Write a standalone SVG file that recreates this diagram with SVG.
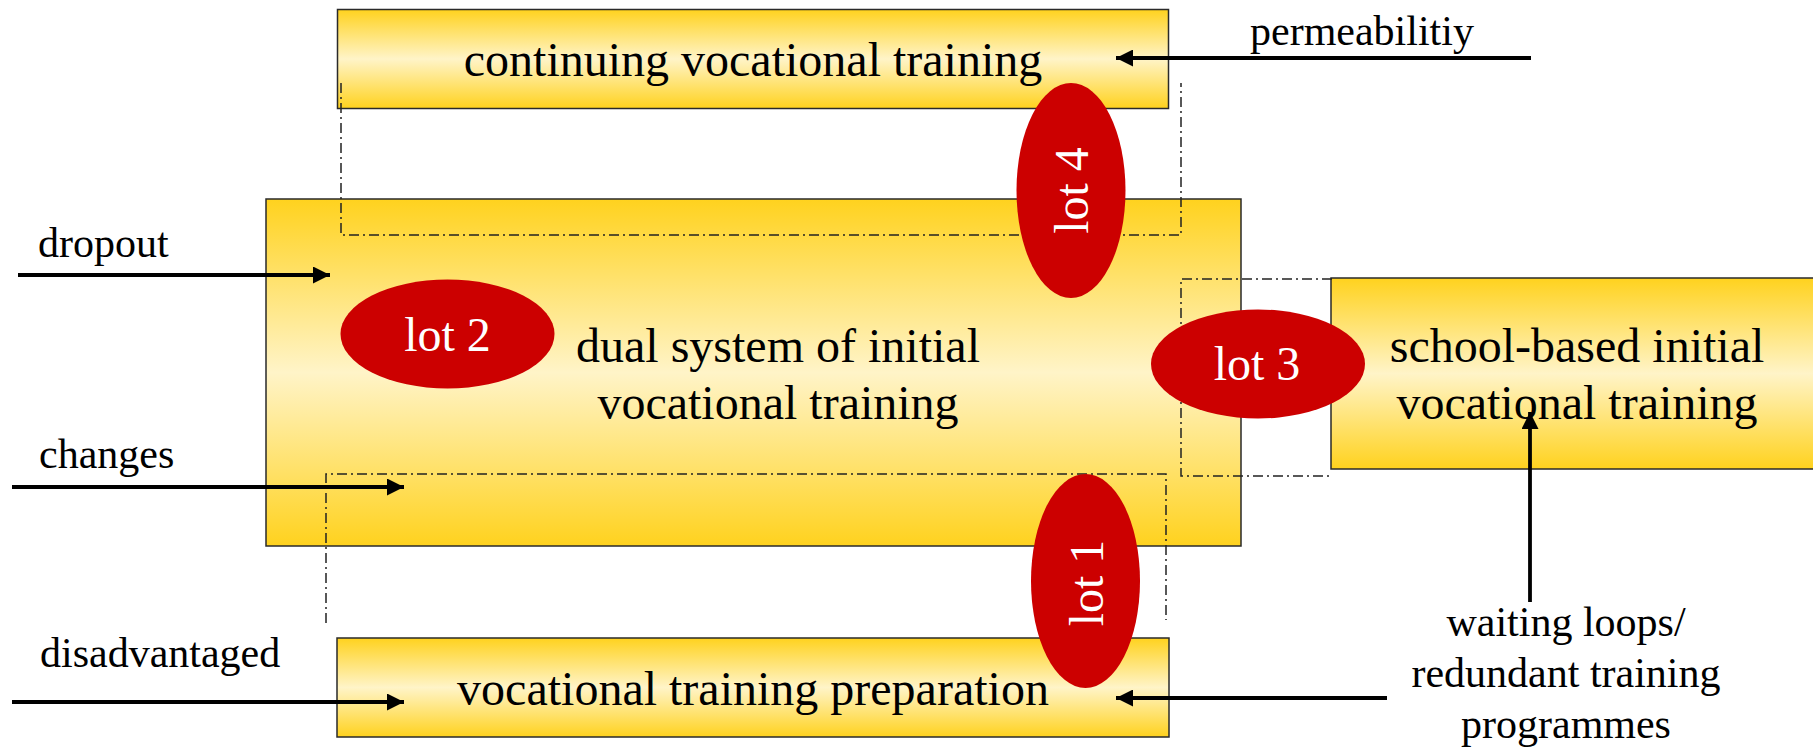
<svg xmlns="http://www.w3.org/2000/svg" width="1813" height="749" viewBox="0 0 1813 749">
<defs>
<linearGradient id="gold" x1="0" y1="0" x2="0" y2="1">
<stop offset="0" stop-color="#FFD21E"/>
<stop offset="0.5" stop-color="#FFF4C8"/>
<stop offset="1" stop-color="#FFD21E"/>
</linearGradient>
<marker id="ah" markerUnits="userSpaceOnUse" markerWidth="18" markerHeight="17" refX="17" refY="8.5" orient="auto">
<path d="M0,0 L17,8.5 L0,17 z" fill="#000"/>
</marker>
<style>
.box{fill:url(#gold);stroke:#2a2a2a;stroke-width:1.5}
.lot{fill:#CC0000}
.t{font-family:"Liberation Serif","Times New Roman",serif;fill:#000}
.big{font-size:48px}
.lbl{font-size:42px}
.lt{font-family:"Liberation Serif","Times New Roman",serif;fill:#fff;font-size:48px}
.dd{fill:none;stroke:#222;stroke-width:1.5;stroke-dasharray:10 4 2 4}
.ar{fill:none;stroke:#000;stroke-width:3.8;marker-end:url(#ah)}
</style>
</defs>
<rect width="1813" height="749" fill="#fff"/>
<g id="node-continuing">
<rect class="box" x="337.5" y="9.5" width="831" height="99"/>
<text class="t big" x="753" y="76" text-anchor="middle">continuing vocational training</text>
</g>
<g id="node-dual">
<rect class="box" x="266" y="199" width="975" height="347"/>
<text class="t big" x="778" y="362" text-anchor="middle">dual system of initial</text>
<text class="t big" x="778" y="419" text-anchor="middle">vocational training</text>
</g>
<g id="node-school">
<rect class="box" x="1331" y="278" width="500" height="191"/>
<text class="t big" x="1577" y="362" text-anchor="middle">school-based initial</text>
<text class="t big" x="1577" y="419" text-anchor="middle">vocational training</text>
</g>
<g id="node-preparation">
<rect class="box" x="337" y="638" width="832" height="99"/>
<text class="t big" x="753" y="705" text-anchor="middle">vocational training preparation</text>
</g>
<g id="lot-regions">
<path class="dd" d="M341,83 V235 H1181 V83"/>
<path class="dd" d="M326,623 V474 H1166 V620"/>
<path class="dd" d="M1332,279 H1181 V476 H1332"/>
</g>
<g id="lot2">
<ellipse class="lot" cx="447.5" cy="334" rx="107" ry="54.5"/>
<text class="lt" x="447.5" y="351" text-anchor="middle">lot 2</text>
</g>
<g id="lot3">
<ellipse class="lot" cx="1258" cy="364" rx="107" ry="54.5"/>
<text class="lt" x="1257" y="380" text-anchor="middle">lot 3</text>
</g>
<g id="lot4">
<ellipse class="lot" cx="1071" cy="190.5" rx="54.5" ry="107.5"/>
<text class="lt" transform="translate(1088,190.5) rotate(-90)" x="0" y="0" text-anchor="middle">lot 4</text>
</g>
<g id="lot1">
<ellipse class="lot" cx="1085.5" cy="581" rx="54.5" ry="107"/>
<text class="lt" transform="translate(1103,583) rotate(-90)" x="0" y="0" text-anchor="middle">lot 1</text>
</g>
<g id="connectors">
<path class="ar" d="M1531,58 L1116,58"/>
<path class="ar" d="M18,275 L330,275"/>
<path class="ar" d="M12,487 L404,487"/>
<path class="ar" d="M12,702 L404,702"/>
<path class="ar" d="M1387,698 L1116,698"/>
<path class="ar" d="M1530,602 L1530,412"/>
</g>
<g id="labels">
<text class="t lbl" x="1362" y="45" text-anchor="middle">permeabilitiy</text>
<text class="t lbl" x="38" y="257">dropout</text>
<text class="t lbl" x="39" y="468">changes</text>
<text class="t lbl" x="40" y="667">disadvantaged</text>
<text class="t lbl" x="1566" y="636" text-anchor="middle">waiting loops/</text>
<text class="t lbl" x="1566" y="687" text-anchor="middle">redundant training</text>
<text class="t lbl" x="1566" y="738" text-anchor="middle">programmes</text>
</g>
</svg>
